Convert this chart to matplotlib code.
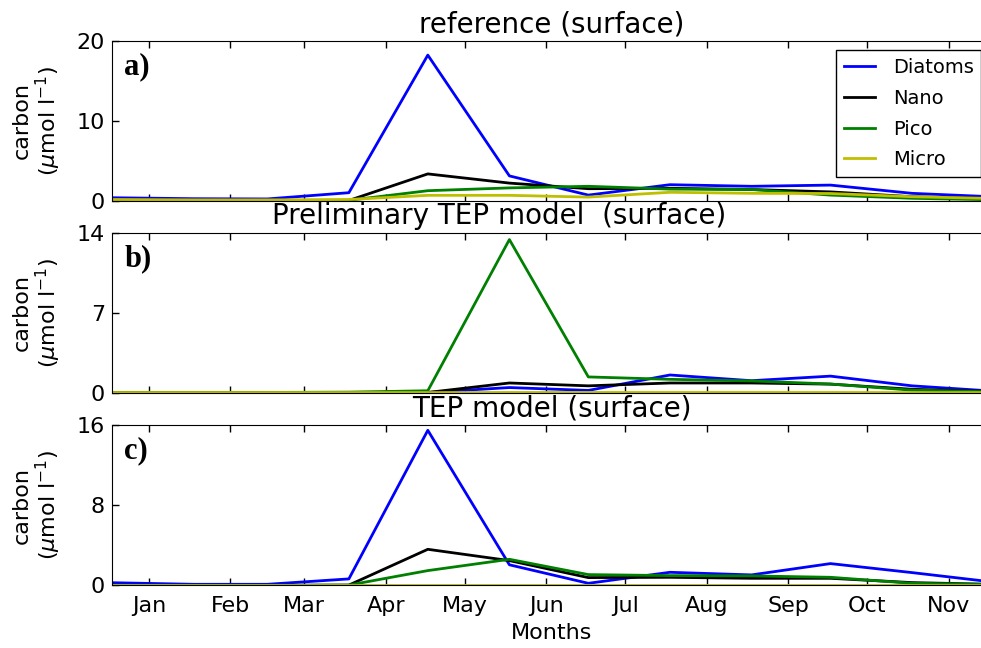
import matplotlib
matplotlib.use("Agg")
import matplotlib.pyplot as plt

# ---------------------------------------------------------
# データ定義 (day of year of each month start, surface carbon)
# ---------------------------------------------------------
month_start = [0, 31, 59, 90, 120, 151, 181, 212, 243, 273, 304, 334]
tick_days = [14, 45, 73, 104, 134, 165, 195, 226, 257, 287, 318]
month_labels = ['Jan', 'Feb', 'Mar', 'Apr', 'May', 'Jun', 'Jul', 'Aug', 'Sep', 'Oct', 'Nov']

# a) reference
diatoms_a = [0.37, 0.25, 0.22, 1.0, 18.2, 3.1, 0.7, 2.0, 1.8, 1.95, 0.92, 0.5]
nano_a    = [0.03, 0.02, 0.02, 0.03, 3.35, 2.2, 1.5, 1.55, 1.4, 1.1, 0.5, 0.25]
pico_a    = [0.05, 0.03, 0.03, 0.05, 1.25, 1.6, 1.8, 1.45, 1.4, 0.7, 0.3, 0.12]
micro_a   = [0.15, 0.1, 0.1, 0.15, 0.67, 0.67, 0.45, 1.05, 0.92, 0.9, 0.5, 0.28]

# b) preliminary TEP model
diatoms_b = [0.0, 0.0, 0.0, 0.0, 0.02, 0.45, 0.2, 1.55, 1.05, 1.45, 0.6, 0.15]
nano_b    = [0.0, 0.0, 0.0, 0.0, 0.02, 0.85, 0.6, 0.85, 0.85, 0.75, 0.3, 0.1]
pico_b    = [0.02, 0.02, 0.02, 0.05, 0.17, 13.4, 1.38, 1.17, 1.03, 0.76, 0.22, 0.08]
micro_b   = [0.01, 0.01, 0.01, 0.01, 0.01, 0.02, 0.02, 0.02, 0.02, 0.02, 0.01, 0.01]

# c) TEP model
diatoms_c = [0.26, 0.1, 0.1, 0.64, 15.5, 2.05, 0.2, 1.3, 1.04, 2.17, 1.27, 0.35]
nano_c    = [0.0, 0.0, 0.0, 0.02, 3.6, 2.47, 0.77, 0.8, 0.7, 0.7, 0.27, 0.1]
pico_c    = [0.0, 0.0, 0.0, 0.02, 1.47, 2.6, 1.07, 0.97, 0.94, 0.8, 0.2, 0.08]
micro_c   = [0.02, 0.02, 0.02, 0.02, 0.02, 0.02, 0.02, 0.02, 0.02, 0.02, 0.02, 0.02]

panels = [
    ('reference (surface)', 'a)', [diatoms_a, nano_a, pico_a, micro_a], [0, 10, 20]),
    ('Preliminary TEP model  (surface)', 'b)', [diatoms_b, nano_b, pico_b, micro_b], [0, 7, 14]),
    ('TEP model (surface)', 'c)', [diatoms_c, nano_c, pico_c, micro_c], [0, 8, 16]),
]
names = ['Diatoms', 'Nano', 'Pico', 'Micro']
colors = ['#0000ff', '#000000', '#008000', '#bfbf00']

# ---------------------------------------------------------
# グラフの描画
# ---------------------------------------------------------
plt.rcParams['font.family'] = 'DejaVu Sans'
plt.rcParams['mathtext.fontset'] = 'dejavusans'

fig = plt.figure(figsize=(9.81, 6.48), dpi=100)

# 軸の位置 (ピクセルから換算, 右端は画像の外)
left = 112 / 981
width = (991 - 112) / 981
bottoms = [1 - 200.7 / 648, 1 - 392.7 / 648, 1 - 585.3 / 648]
height = 160 / 648
title_x = [0.5, 0.44, 0.5]

for i, (title, letter, series, yticks) in enumerate(panels):
    ax = fig.add_axes([left, bottoms[i], width, height])
    for vals, name, col in zip(series, names, colors):
        ax.plot(month_start, vals, color=col, linewidth=2, label=name)

    ax.set_xlim(0, 334)
    ax.set_ylim(yticks[0], yticks[-1])
    ax.set_yticks(yticks)
    ax.set_xticks(tick_days)
    if i == 2:
        ax.set_xticklabels(month_labels)
        ax.set_xlabel('Months', fontsize=16, labelpad=5)
    else:
        ax.set_xticklabels([])

    ax.tick_params(direction='in', length=5, width=1, top=True, right=True, labelsize=16)
    ax.tick_params(axis='x', pad=8)
    ax.tick_params(axis='y', pad=5)

    ax.set_title(title, fontsize=20, x=title_x[i], pad=6)
    ax.set_ylabel('carbon\n($\\mu$mol l$^{-1}$)', fontsize=16, linespacing=1.1)
    ax.yaxis.set_label_coords(-0.0557, 0.5)

    ax.text(0.014, 0.93, letter, transform=ax.transAxes, va='top', ha='left',
            fontsize=22, fontweight='bold', family='Liberation Serif')

    if i == 0:
        ax.legend(loc='upper right', fontsize=14, handlelength=1.6, handletextpad=0.9,
                  labelspacing=0.6, borderaxespad=0.5, fancybox=False,
                  edgecolor='black', framealpha=1)

fig.savefig('out.png', dpi=100)
